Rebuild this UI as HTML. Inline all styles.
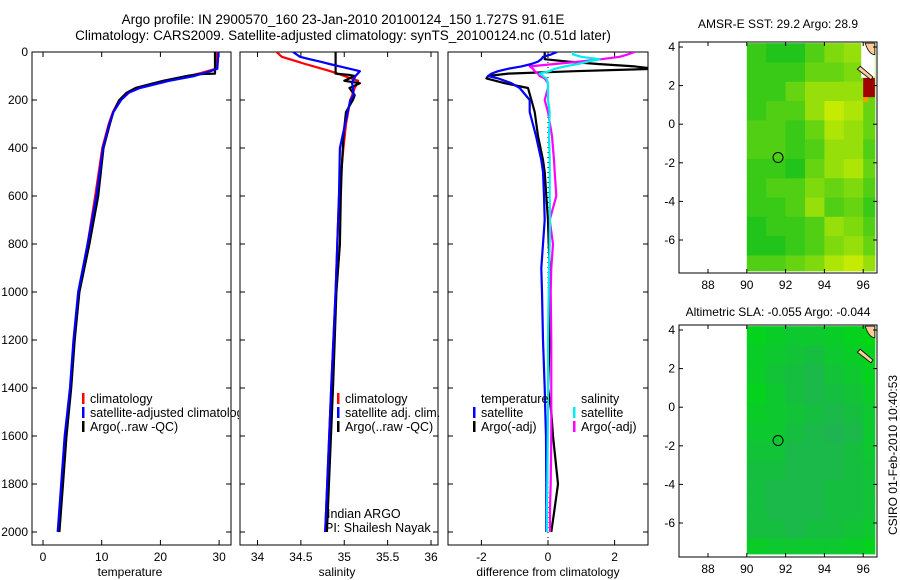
<!DOCTYPE html>
<html><head><meta charset="utf-8"><style>
body{margin:0;background:#fff;}
svg{display:block;font-family:"Liberation Sans",sans-serif;}
</style></head><body>
<svg id="c" width="900" height="580" xmlns="http://www.w3.org/2000/svg">
<text x="343" y="24" font-size="13.5" text-anchor="middle">Argo profile: IN 2900570_160 23-Jan-2010 20100124_150 1.727S 91.61E</text>
<text x="343" y="40" font-size="13.5" text-anchor="middle">Climatology: CARS2009. Satellite-adjusted climatology: synTS_20100124.nc (0.51d later)</text>
<text x="778" y="28" font-size="12" text-anchor="middle">AMSR-E SST: 29.2  Argo: 28.9</text>
<text x="778" y="316" font-size="12" text-anchor="middle">Altimetric SLA: -0.055  Argo: -0.044</text>
<text transform="translate(897,455) rotate(-90)" font-size="12" text-anchor="middle">CSIRO 01-Feb-2010 10:40:53</text>
<g id="g"></g>
</svg>
<script>
// ---- profile data ----
const depthT=[0,70,80,100,120,150,170,200,250,300,400,600,800,1000,1200,1400,1600,1800,2000];
const tempClim=[29.6,29.4,28.0,25.0,20.5,15.8,14.2,13.0,11.9,11.2,10.1,8.9,7.6,6.1,5.3,4.7,3.8,3.2,2.6];
const tempSat=[29.9,29.7,28.5,25.8,21.5,16.5,14.6,13.3,12.0,11.3,10.2,9.1,7.6,6.0,5.2,4.6,3.7,3.1,2.5];
const depthArgoT=[0,90,92,100,120,150,170,200,250,300,400,600,800,1000,1200,1400,1600,1800,2000];
const tempArgo=[29.3,29.3,26.5,24.5,20.5,15.8,14.3,13.0,12.0,11.4,10.3,9.4,7.9,6.2,5.4,4.8,4.0,3.4,2.8];
const depthS=[0,20,30,40,50,60,80,100,120,130,150,180,200,300,400,600,1000,1400,2000];
const salClim=[34.22,34.28,34.37,34.46,34.55,34.65,34.84,35.0,35.16,35.15,35.12,35.09,35.07,35.02,34.99,34.94,34.9,34.85,34.78];
const salSat=[34.41,34.49,34.6,34.72,34.83,34.95,35.18,35.13,35.1,35.09,35.1,35.11,35.07,35.01,34.95,34.94,34.9,34.85,34.78];
const depthArgoS=[0,90,95,100,120,130,150,180,200,250,350,500,600,800,1000,1400,2000];
const salArgo=[34.9,34.9,35.05,35.12,35.0,35.18,35.06,35.12,35.1,35.02,34.99,34.97,34.96,34.95,34.91,34.87,34.8];
const depthD=[0,10,20,30,40,50,60,70,80,90,100,110,130,150,200,250,350,450,500,600,700,800,900,1000,1200,1400,1500,1600,1800,1900,2000];
const dTsat=[0.27,0.1,-0.15,-0.2,-0.3,-0.5,-0.8,-1.2,-1.5,-1.7,-1.8,-1.5,-1.1,-0.85,-0.55,-0.55,-0.36,-0.2,-0.15,-0.12,-0.1,-0.15,-0.2,-0.18,-0.15,-0.1,-0.08,-0.06,-0.05,-0.05,-0.05];
const dTargo=[-0.1,-0.1,-0.1,-0.1,0.6,1.5,2.6,3.2,0.8,-1.2,-1.8,-1.85,-1.3,-0.6,-0.5,-0.4,-0.3,-0.15,-0.1,-0.05,0,0.02,0.05,0.05,0.05,0.0,0.1,0.15,0.3,0.2,0.1];
const dSsat=[0.75,0.75,1.0,1.55,1.2,0.9,0.5,0.2,0.05,-0.25,-0.15,-0.05,0,0,0,0.05,0.03,0.05,0.05,0.05,0.06,0.05,0.03,0.02,0.0,0.0,0.0,-0.01,-0.02,-0.03,-0.03];
const dSargo=[2.6,2.4,2.15,1.6,0.95,0.2,-0.55,-0.45,-0.4,-0.3,-0.25,-0.1,0,0,-0.1,0.0,0.12,0.18,0.2,0.25,0.05,0.15,0.1,0.08,0.1,0.1,0.1,0.1,0.08,0.06,0.06];
// ---- map data (1-degree cells, rows from 4.2N southward, cols from 90E) ----
const sstGrid=["2113566","2224455","2246664","2336874","3324764","3323663","2214674","2335453","2236342","1223653","1123564","3345786"];
const slaGrid=["1233210","2345321","2456431","1356542","2345653","3356763","4466653","5566654","5666554","5666554","5565543","2333321"];
const argoLon=91.61, argoLat=-1.727;

const NS="http://www.w3.org/2000/svg";
const G=document.getElementById('g');
function mk(t,a,p){const e=document.createElementNS(NS,t);for(const k in a)e.setAttribute(k,a[k]);(p||G).appendChild(e);return e;}

const yTop=52,yBot=545;
const yD=d=>yTop+d*0.24;
const panels=[
 {x0:32,x1:231,sx:v=>43+v*5.87,ticks:[0,10,20,30],lab:"temperature",cx:130,name:"temperature-panel"},
 {x0:240,x1:438,sx:v=>257.5+(v-34)*86.75,ticks:[34,34.5,35,35.5,36],lab:"salinity",cx:337,name:"salinity-panel"},
 {x0:448,x1:648,sx:v=>548+v*33.3,ticks:[-2,0,2],lab:"difference from climatology",cx:548,name:"difference-panel"}
];
panels.forEach((p,i)=>{
 const grp=mk('g',{});
 
 
 const fr=mk('rect',{x:p.x0,y:yTop,width:p.x1-p.x0,height:yBot-yTop,fill:'none',stroke:'#000','stroke-width':1},grp);
 
 
 for(let d=0;d<=2000;d+=200){
  const y=yD(d);
  mk('line',{x1:p.x0,x2:p.x0+5,y1:y,y2:y,stroke:'#000'},grp);
  mk('line',{x1:p.x1,x2:p.x1-5,y1:y,y2:y,stroke:'#000'},grp);
  if(i==0){const t=mk('text',{x:28,y:y+4,'font-size':12,'text-anchor':'end'},grp);t.textContent=d;
   
   }
 }
 p.ticks.forEach(v=>{const x=p.sx(v);
  mk('line',{x1:x,x2:x,y1:yTop,y2:yTop+5,stroke:'#000'},grp);
  mk('line',{x1:x,x2:x,y1:yBot,y2:yBot-5,stroke:'#000'},grp);
  const t=mk('text',{x:x,y:561,'font-size':12,'text-anchor':'middle'},grp);t.textContent=v;
  
  });
 const l=mk('text',{x:p.cx,y:576,'font-size':12,'text-anchor':'middle'},grp);l.textContent=p.lab;
 
 
});
const clip=mk('defs',{});
panels.forEach((p,i)=>{const c=mk('clipPath',{id:'cp'+i},clip);mk('rect',{x:p.x0,y:yTop,width:p.x1-p.x0,height:yBot-yTop},c);});
const ct=mk('clipPath',{id:'cpt'},clip);mk('rect',{x:32,y:0,width:207,height:580},ct);
mk('line',{x1:548,x2:548,y1:yTop,y2:yBot,stroke:'#000','stroke-dasharray':'1 4','stroke-width':1});
function line(pi,ds,vs,col,name){
 const p=panels[pi];
 const pts=ds.map((d,k)=>p.sx(vs[k]).toFixed(1)+','+yD(d).toFixed(1)).join(' ');
 const e=mk('polyline',{points:pts,fill:'none',stroke:col,'stroke-width':2.2,'stroke-linejoin':'round','clip-path':'url(#cp'+pi+')'});
 
 
}
line(0,depthT,tempClim,'#f00','temperature-climatology-line');
line(0,depthArgoT,tempArgo,'#000','temperature-argo-line');
line(0,depthT,tempSat,'#00f','temperature-satellite-line');
line(1,depthS,salClim,'#f00','salinity-climatology-line');
line(1,depthArgoS,salArgo,'#000','salinity-argo-line');
line(1,depthS,salSat,'#00f','salinity-satellite-line');
line(2,depthD,dTargo,'#000','temp-diff-argo-line');
line(2,depthD,dSargo,'#f0f','sal-diff-argo-line');
line(2,depthD,dTsat,'#00f','temp-diff-satellite-line');
line(2,depthD,dSsat,'#0ee','sal-diff-satellite-line');
function leg(x,y,col,txt,name,clipId){
 const g=mk('g',clipId?{'clip-path':'url(#'+clipId+')'}:{});
 
 
 if(col)mk('rect',{x:x,y:y-10,width:2.5,height:11,fill:col},g);
 const t=mk('text',{x:x+8,y:y,'font-size':12.5},g);t.textContent=txt;
}
leg(82,403,'#f00','climatology','legend-climatology');
leg(82,417,'#00f','satellite-adjusted climatology','legend-satellite-adjusted','cpt');
leg(82,431,'#000','Argo(..raw -QC)','legend-argo');
leg(337,403,'#f00','climatology','legend-climatology');
leg(337,417,'#00f','satellite adj. clim.','legend-satellite-adj');
leg(337,431,'#000','Argo(..raw -QC)','legend-argo');
leg(473,403,null,'temperature','legend-temperature-header');
leg(473,417,'#00f','satellite','legend-temp-satellite');
leg(473,431,'#000','Argo(-adj)','legend-temp-argo');
leg(573,403,null,'salinity','legend-salinity-header');
leg(573,417,'#0ee','satellite','legend-sal-satellite');
leg(573,431,'#f0f','Argo(-adj)','legend-sal-argo');
const t1=mk('text',{x:327,y:518,'font-size':12.5});t1.textContent='Indian ARGO';


const t2=mk('text',{x:325,y:532,'font-size':12.5});t2.textContent='PI: Shailesh Nayak';



function sstCol(v){const f=v/9;return `rgb(${Math.round(10+f*210)},${Math.round(190+f*50)},${Math.round(30-f*30)})`;}
function slaCol(v){const f=v/9;return `rgb(${Math.round(0+f*40)},${Math.round(215-f*45)},${Math.round(20+f*80)})`;}
function map(yt,yb,grid,colf,name,sst){
 const x0=679,x1=877;
 const lx=lon=>708+(lon-88)*19.4;
 const ly=lat=>yt+5+(4-lat)*19.3;
 const g=mk('g',{});
 
 
 grid.forEach((row,r)=>{[...row].forEach((ch,c)=>{
  const lo0=90+c,lo1=Math.min(96.6,91+c),la0=4.2-r,la1=Math.max(-7.6,3.2-r);
  const e=mk('rect',{x:lx(lo0),y:ly(la0),width:lx(lo1)-lx(lo0)+0.5,height:ly(la1)-ly(la0)+0.5,fill:colf(+ch)},g);
  
  
 });});
 if(sst){
  mk('rect',{x:lx(95.9),y:ly(4.2),width:lx(96.6)-lx(95.9),height:ly(2.4)-ly(4.2),fill:'#fff'},g);
  mk('rect',{x:lx(96),y:ly(2.4),width:lx(96.6)-lx(96),height:ly(1.4)-ly(2.4),fill:'#a00000'},g);
  mk('rect',{x:lx(96),y:ly(1.4),width:5,height:5,fill:'#f0a000'},g);
 }
 mk('path',{d:`M${lx(96.1)},${ly(4.2)} Q${lx(96.3)},${ly(3.6)} ${lx(96.6)},${ly(3.6)} L${lx(96.6)},${ly(4.2)}Z`,fill:'#fc9',stroke:'#000','stroke-width':0.8},g);
 mk('path',{d:`M${lx(95.7)},${ly(2.85)} L${lx(95.85)},${ly(3.0)} L${lx(96.5)},${ly(2.45)} L${lx(96.4)},${ly(2.3)}Z`,fill:'#fc9',stroke:'#000','stroke-width':0.8},g);
 const ci=mk('circle',{cx:lx(argoLon),cy:ly(argoLat),r:5,fill:'none',stroke:'#000','stroke-width':1},g);
 
 
 mk('rect',{x:x0,y:yt,width:x1-x0,height:yb-yt,fill:'none',stroke:'#000'},g);
 [88,90,92,94,96].forEach(lo=>{const x=lx(lo);
  mk('line',{x1:x,x2:x,y1:yt,y2:yt+4,stroke:'#000'},g);mk('line',{x1:x,x2:x,y1:yb,y2:yb-4,stroke:'#000'},g);
  const t=mk('text',{x:x,y:yb+16,'font-size':12,'text-anchor':'middle'},g);t.textContent=lo;
  
  });
 [4,2,0,-2,-4,-6].forEach(la=>{const y=ly(la);
  mk('line',{x1:x0,x2:x0+4,y1:y,y2:y,stroke:'#000'},g);mk('line',{x1:x1,x2:x1-4,y1:y,y2:y,stroke:'#000'},g);
  const t=mk('text',{x:675,y:y+4,'font-size':12,'text-anchor':'end'},g);t.textContent=la;
  
  });
}
map(42,273,sstGrid,sstCol,'sst-map',true);
map(325,557,slaGrid,slaCol,'sla-map',false);
</script>
</body></html>
